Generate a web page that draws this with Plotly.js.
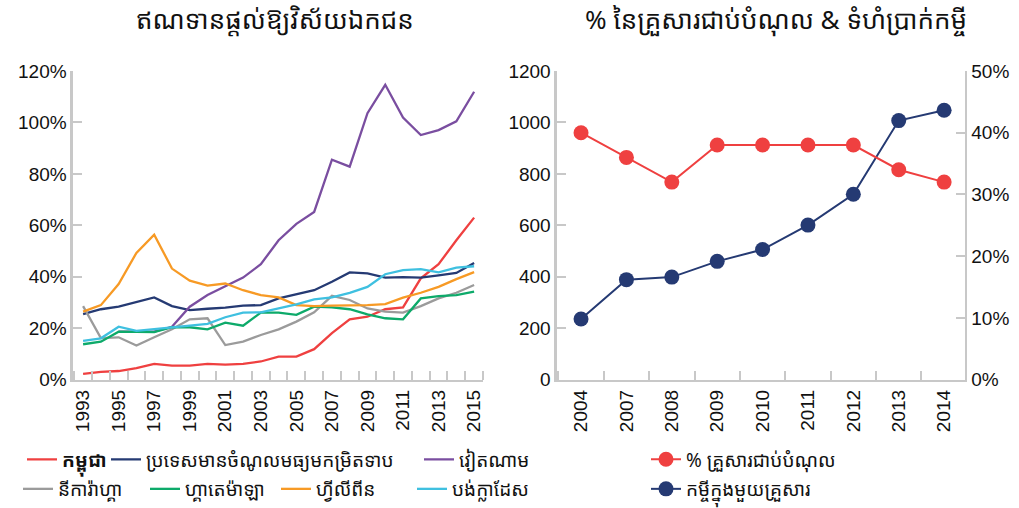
<!DOCTYPE html>
<html>
<head>
<meta charset="utf-8">
<script src="https://cdn.plot.ly/plotly-3.0.1.min.js"></script>
<style>html,body{margin:0;padding:0;background:#fff;}#chart{width:1019px;height:508px;}</style>
</head>
<body>
<div id="chart"></div>
<script>
// ---- Left chart: loans to private sector (% of GDP) ----
const years = [1993,1994,1995,1996,1997,1998,1999,2000,2001,2002,2003,2004,2005,2006,2007,2008,2009,2010,2011,2012,2013,2014,2015];
const cambodia   = [0.023,0.031,0.034,0.045,0.062,0.055,0.055,0.062,0.059,0.062,0.071,0.090,0.090,0.119,0.181,0.235,0.245,0.274,0.281,0.394,0.449,0.542,0.630];
const lowerMid   = [0.255,0.274,0.284,0.302,0.320,0.286,0.271,0.276,0.280,0.288,0.290,0.316,0.333,0.348,0.381,0.417,0.413,0.397,0.399,0.397,0.406,0.415,0.454];
const vietYears  = [1995,1996,1997,1998,1999,2000,2001,2002,2003,2004,2005,2006,2007,2008,2009,2010,2011,2012,2013,2014,2015];
const vietnam    = [0.187,0.187,0.187,0.206,0.284,0.329,0.364,0.397,0.449,0.542,0.606,0.652,0.855,0.828,1.036,1.146,1.019,0.951,0.970,1.004,1.119];
const nicaragua  = [0.286,0.162,0.165,0.133,0.165,0.196,0.235,0.239,0.135,0.148,0.174,0.196,0.226,0.262,0.326,0.310,0.277,0.265,0.261,0.286,0.316,0.338,0.368];
const guatemala  = [0.138,0.148,0.187,0.187,0.185,0.204,0.204,0.196,0.222,0.210,0.261,0.261,0.252,0.284,0.281,0.274,0.254,0.239,0.235,0.316,0.325,0.329,0.342];
const philippines= [0.265,0.290,0.372,0.493,0.564,0.432,0.385,0.366,0.374,0.348,0.329,0.320,0.290,0.286,0.288,0.288,0.290,0.294,0.319,0.338,0.361,0.391,0.418];
const bangladesh = [0.151,0.161,0.206,0.190,0.197,0.204,0.209,0.217,0.243,0.261,0.262,0.277,0.293,0.312,0.320,0.338,0.361,0.410,0.426,0.430,0.417,0.436,0.441];
const leftNames = ['<b>កម្ពុជា</b>','ប្រទេសមានចំណូលមធ្យមកម្រិតទាប','វៀតណាម','នីការ៉ាហ្គា','ហ្គាតេម៉ាឡា','ហ្វីលីពីន','បង់ក្លាដែស'];
const leftTickYears = [1993,1995,1997,1999,2001,2003,2005,2007,2009,2011,2013,2015];

// ---- Right chart ----
const surveyYears = ['2004','2007','2008','2009','2010','2011','2012','2013','2014'];
const pctIndebted = [0.40,0.36,0.32,0.38,0.38,0.38,0.38,0.34,0.32];
const loanPerHH   = [236,389,399,460,506,601,721,1007,1047];
const rightNames = ['% គ្រួសារជាប់បំណុល','កម្ចីក្នុងមួយគ្រួសារ'];

const FONT = 'Noto Sans Khmer, Khmer OS System, Khmer OS, Liberation Sans, Arial, sans-serif';
const NUMFONT = 'Liberation Sans, Arial, sans-serif';
const AX = '#c8c8c8';
const W = 1019, H = 508;

function ln(x, y, name, color, legend) {
  return {x: x, y: y, name: name, type: 'scatter', mode: 'lines', xaxis: 'x', yaxis: 'y',
          line: {color: color, width: 2.3}, legend: legend};
}
const traces = [
  ln(years, cambodia, leftNames[0], '#ef4040', 'legend'),
  ln(years, lowerMid, leftNames[1], '#253a73', 'legend2'),
  ln(vietYears, vietnam, leftNames[2], '#7a4ea0', 'legend3'),
  ln(years, nicaragua, leftNames[3], '#9b9b9b', 'legend4'),
  ln(years, guatemala, leftNames[4], '#0daa6a', 'legend5'),
  ln(years, philippines, leftNames[5], '#f79a25', 'legend6'),
  ln(years, bangladesh, leftNames[6], '#3fc0e0', 'legend7'),
  {x: surveyYears, y: pctIndebted, name: rightNames[0], type: 'scatter', mode: 'lines+markers',
   xaxis: 'x2', yaxis: 'y3', legend: 'legend8',
   line: {color: '#ef4040', width: 2}, marker: {color: '#ef4040', size: 15}},
  {x: surveyYears, y: loanPerHH, name: rightNames[1], type: 'scatter', mode: 'lines+markers',
   xaxis: 'x2', yaxis: 'y2', legend: 'legend9',
   line: {color: '#253a73', width: 2}, marker: {color: '#253a73', size: 15}}
];

const common = {showgrid: false, zeroline: false, showline: true, linecolor: AX, linewidth: 2.5,
  ticks: 'inside', tickcolor: AX, tickwidth: 2, ticklen: 9,
  tickfont: {family: NUMFONT, size: 19, color: '#111'}, fixedrange: true, automargin: false};

function leg(px, py) {
  return {orientation: 'h', x: px / W, xanchor: 'left', y: 1 - py / H, yanchor: 'middle',
    font: {family: FONT, size: 19, color: '#111'}, bgcolor: 'rgba(0,0,0,0)', itemwidth: 30};
}

const DOMY = [0.245, 0.859];
const layout = {
  width: W, height: H,
  margin: {l: 0, r: 0, t: 0, b: 0},
  paper_bgcolor: '#fff', plot_bgcolor: '#fff',
  font: {family: FONT, color: '#111'},
  showlegend: true,
  xaxis: Object.assign({}, common, {domain: [0.0716, 0.474], range: [1992.43, 2015.5],
    tickvals: leftTickYears, ticktext: leftTickYears.map(String), ticks: '', tickangle: -90,
    minor: {ticks: 'inside', tick0: 1992.5, dtick: 1, ticklen: 9, tickcolor: AX, tickwidth: 2, showgrid: false},
    anchor: 'y'}),
  yaxis: Object.assign({}, common, {domain: DOMY, range: [0, 1.2], dtick: 0.2, tickformat: '.0%', anchor: 'x'}),
  xaxis2: Object.assign({}, common, {domain: [0.5466, 0.947], type: 'category', range: [-0.53, 8.46],
    tickson: 'boundaries', tickangle: -90, anchor: 'y2'}),
  yaxis2: Object.assign({}, common, {domain: DOMY, range: [0, 1200], dtick: 200, anchor: 'x2'}),
  yaxis3: Object.assign({}, common, {range: [0, 0.5], dtick: 0.1, tickformat: '.0%', overlaying: 'y2',
    side: 'right', anchor: 'x2'}),
  legend: leg(22, 464),
  legend2: leg(106, 464),
  legend3: leg(419, 464),
  legend4: leg(18, 494),
  legend5: leg(145, 494),
  legend6: leg(276, 494),
  legend7: leg(412, 494),
  legend8: leg(646, 464),
  legend9: leg(646, 494),
  annotations: [
    {text: 'ឥណទានផ្តល់ឱ្យវិស័យឯកជន', xref: 'paper', yref: 'paper', x: 0.27, y: 0.962,
     xanchor: 'center', yanchor: 'middle', showarrow: false, font: {family: FONT, size: 26, color: '#111'}},
    {text: '% នៃគ្រួសារជាប់បំណុល & ទំហំប្រាក់កម្ចី', xref: 'paper', yref: 'paper', x: 0.762, y: 0.962,
     xanchor: 'center', yanchor: 'middle', showarrow: false, font: {family: FONT, size: 26, color: '#111'}}
  ]
};

Plotly.newPlot('chart', traces, layout, {displayModeBar: false, staticPlot: true});
</script>
</body>
</html>
